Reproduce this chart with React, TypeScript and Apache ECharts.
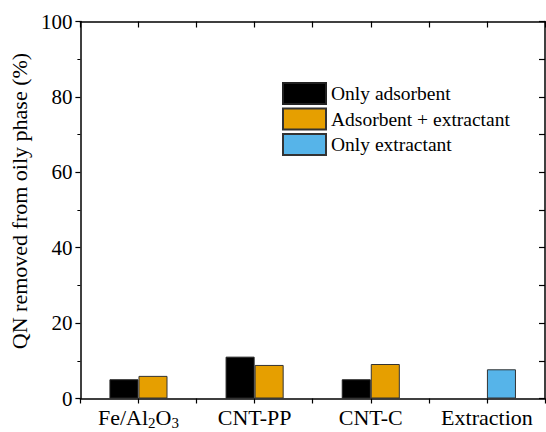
import React, { useEffect, useRef } from "react";
import * as echarts from "echarts";

const categories = ["Fe/Al{sub|2}O{sub|3}", "CNT-PP", "CNT-C", "Extraction"];
const onlyAdsorbent = [5.1, 11.1, 5.1, "-"];
const adsorbentExtractant = [6.0, 8.9, 9.15, "-"];
const onlyExtractant = ["-", "-", "-", 7.75];
const tickSlots = ["", "", "", "", "", "", "", ""];
const seriesNames = ["Only adsorbent", "Adsorbent + extractant", "Only extractant"];

const FONT = "Liberation Serif";

export default function App() {
  const ref = useRef<HTMLDivElement>(null);
  useEffect(() => {
    if (!ref.current) return;
    const chart = echarts.init(ref.current, undefined, { renderer: "svg" });
    const axisLine = { show: true, lineStyle: { color: "#000", width: 1.5 } };
    chart.setOption({
      animation: false,
      backgroundColor: "#fff",
      textStyle: { fontFamily: FONT },
      grid: { left: 78, right: 1, top: 21.5, bottom: 33.5 },
      legend: {
        orient: "vertical",
        left: 277,
        top: 77,
        itemWidth: 43,
        itemHeight: 21,
        itemGap: 2.5,
        icon: "rect",
        textStyle: { fontFamily: FONT, fontSize: 19.5, color: "#000" },
        data: seriesNames,
      },
      xAxis: [
        {
          type: "category",
          data: categories,
          position: "bottom",
          axisLine,
          axisTick: { show: false },
          axisLabel: {
            color: "#000",
            fontFamily: FONT,
            fontSize: 22,
            lineHeight: 26,
            margin: 6,
            interval: 0,
            rich: {
              sub: { fontSize: 15, fontFamily: FONT, color: "#000", padding: [10, 0, 0, 0] },
            },
          },
        },
        {
          type: "category",
          data: tickSlots,
          position: "bottom",
          axisLine: { show: false },
          axisTick: { show: true, inside: false, length: 5, interval: 0, lineStyle: { color: "#000", width: 1.2 } },
          axisLabel: { show: false },
        },
        {
          type: "category",
          data: tickSlots,
          position: "top",
          axisLine,
          axisTick: { show: true, inside: true, length: 6, interval: 0, lineStyle: { color: "#000", width: 1.2 } },
          axisLabel: { show: false },
        },
      ],
      yAxis: [
        {
          type: "value",
          min: 0,
          max: 100,
          interval: 20,
          position: "left",
          name: "QN removed from oily phase (%)",
          nameLocation: "middle",
          nameGap: 46,
          nameTextStyle: { fontFamily: FONT, fontSize: 22, color: "#000", padding: [0, 0, 0, 18] },
          axisLine,
          axisTick: { show: true, inside: false, length: 5, lineStyle: { color: "#000", width: 1.2 } },
          minorTick: { show: true, splitNumber: 2, length: 3, lineStyle: { color: "#000", width: 1 } },
          splitLine: { show: false },
          axisLabel: { color: "#000", fontFamily: FONT, fontSize: 21, margin: 8 },
        },
        {
          type: "value",
          min: 0,
          max: 100,
          interval: 10,
          position: "right",
          axisLine,
          axisTick: { show: true, inside: true, length: 6, lineStyle: { color: "#000", width: 1.2 } },
          splitLine: { show: false },
          axisLabel: { show: false },
        },
      ],
      series: [
        {
          name: seriesNames[0],
          type: "bar",
          data: onlyAdsorbent,
          stack: "a",
          barGap: "0%",
          barCategoryGap: "50%",
          itemStyle: { color: "#000000", borderColor: "#222", borderWidth: 1 },
        },
        {
          name: seriesNames[1],
          type: "bar",
          data: adsorbentExtractant,
          stack: "b",
          barGap: "0%",
          barCategoryGap: "50%",
          itemStyle: { color: "#E69F00", borderColor: "#333", borderWidth: 1 },
        },
        {
          name: seriesNames[2],
          type: "bar",
          data: onlyExtractant,
          stack: "b",
          barGap: "0%",
          barCategoryGap: "50%",
          itemStyle: { color: "#56B4E9", borderColor: "#333", borderWidth: 1 },
        },
      ],
    });
    return () => chart.dispose();
  }, []);
  return <div ref={ref} style={{ width: 546, height: 432, position: "absolute", left: 0, top: 0 }} />;
}
